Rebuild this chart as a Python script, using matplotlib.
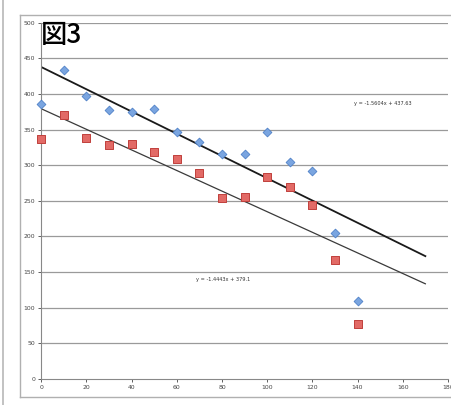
import numpy as np
import matplotlib.pyplot as plt
from matplotlib.lines import Line2D

# data
x_vals = [0, 10, 20, 30, 40, 50, 60, 70, 80, 90, 100, 110, 120, 130, 140]
blue_y = [386, 434, 397, 377, 374, 379, 347, 333, 315, 315, 347, 304, 292, 205, 109]
red_y = [336, 371, 338, 328, 330, 318, 309, 289, 254, 255, 284, 270, 244, 167, 77]

# trendline coefficients (as printed on the chart)
blue_fit = (-1.5604, 437.63)
red_fit = (-1.4443, 379.1)
trend_end = 170

x_ticks = list(range(0, 181, 20))
y_ticks = list(range(0, 501, 50))

plt.rcParams['font.family'] = ['DejaVu Sans']

fig = plt.figure(figsize=(4.52, 4.05), dpi=100)
ax = fig.add_axes([0.0914, 0.0642, 0.8996, 0.880])

# horizontal gridlines
for yv in y_ticks[1:]:
    ax.axhline(yv, color='#9a9a9a', lw=0.9, zorder=1)

# trendlines
xt = np.array([0, trend_end])
ax.plot(xt, blue_fit[0] * xt + blue_fit[1], color='#1a1a1a', lw=1.3, zorder=2)
ax.plot(xt, red_fit[0] * xt + red_fit[1], color='#3a3a3a', lw=0.9, zorder=2)

# points
ax.scatter(x_vals, blue_y, marker='D', s=20, facecolor='#7aa5e0', edgecolor='#4f81c8',
           linewidth=0.6, zorder=3, clip_on=False)
ax.scatter(x_vals, red_y, marker='s', s=38, facecolor='#e26a66', edgecolor='#c0403c',
           linewidth=0.7, zorder=3, clip_on=False)

# equation labels
ax.text(138.5, 387, 'y = -1.5604x + 437.63', fontsize=3.6, color='#333333', va='center')
ax.text(68.6, 140, 'y = -1.4443x + 379.1', fontsize=3.6, color='#333333', va='center')

ax.set_xlim(0, 180)
ax.set_ylim(0, 500)
ax.set_xticks(x_ticks)
ax.set_yticks(y_ticks)
ax.tick_params(axis='both', labelsize=4.4, colors='#444444', length=2.5, width=0.6, pad=2)
for s in ['top', 'right']:
    ax.spines[s].set_visible(False)
for s in ['left', 'bottom']:
    ax.spines[s].set_color('#888888')
    ax.spines[s].set_linewidth(0.8)

# title
fig.text(0.091, 0.945, '図3', fontsize=19, family=['Noto Sans CJK JP', 'DejaVu Sans'],
         fontweight='medium', va='top', ha='left')

# outer chart frame and page border
fig.add_artist(Line2D([20 / 452, 20 / 452], [1 - 397 / 405, 1 - 15 / 405], color='#b0b0b0', lw=1.0))
fig.add_artist(Line2D([20 / 452, 1.0], [1 - 15 / 405, 1 - 15 / 405], color='#b0b0b0', lw=1.0))
fig.add_artist(Line2D([20 / 452, 1.0], [1 - 397 / 405, 1 - 397 / 405], color='#b0b0b0', lw=1.0))
fig.add_artist(Line2D([3 / 452, 3 / 452], [0, 1], color='#b8b8b8', lw=1.2))

fig.savefig('out.png', dpi=100)
